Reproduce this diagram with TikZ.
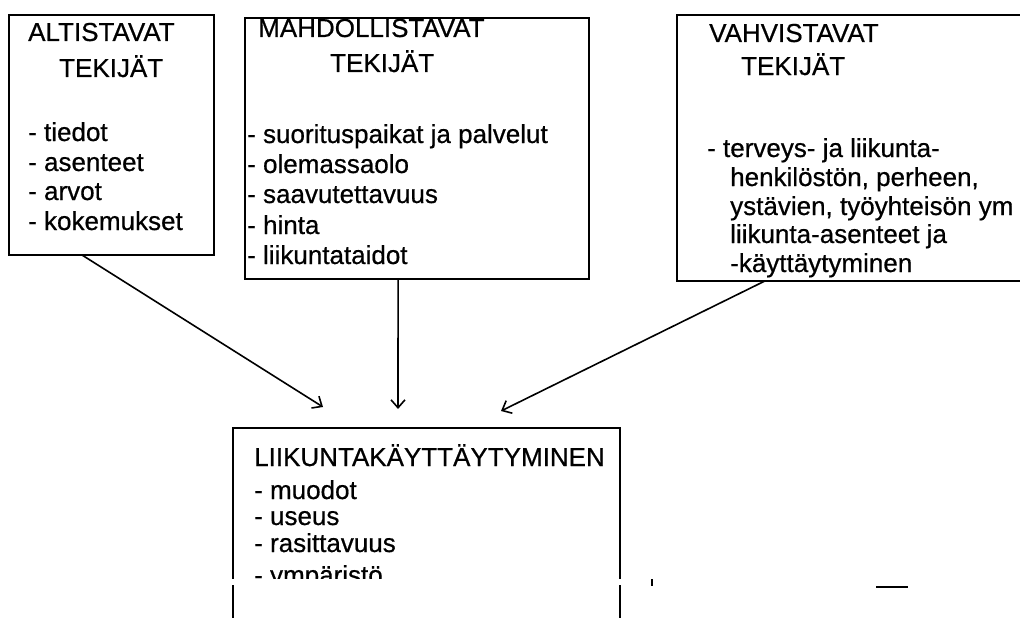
\documentclass[tikz,border=0pt]{standalone}
\usepackage{fontspec}
\setmainfont{Liberation Sans}
\newfontfamily\scanfont{Liberation Sans}[FakeBold=0.6]
\usetikzlibrary{arrows.meta,calc}
\begin{document}
\begin{tikzpicture}[x=1pt,y=-1pt,
  box/.style={draw=black,line width=2.4pt,inner sep=0pt,outer sep=0pt,anchor=north west},
  txt/.style={anchor=base west,inner sep=0pt,font=\scanfont\fontsize{26}{30}\selectfont},
  arr/.style={line width=1.6pt,-{Straight Barb[length=8pt,width=14pt,line width=1.6pt]}},
  mark stroke/.style={line width=2.4pt}]
\useasboundingbox (0,0) rectangle (1020,618);
\clip (0,0) rectangle (1020,618);
% boxes
\node[box,minimum width=205pt,minimum height=240pt] (b1) at (9,15) {};
\node[box,minimum width=344pt,minimum height=261pt] (b2) at (245,18) {};
\node[box,minimum width=363pt,minimum height=266pt] (b3) at (677,15) {};
\node[box,minimum width=387pt,minimum height=222pt] (b4) at (233,428) {};
% box 1 texts
\node[txt] (t1h1) at (28,41) {ALTISTAVAT};
\node[txt] (t1h2) at (59,77) {TEKIJÄT};
\node[txt] (t1a) at (28,141) {- tiedot};
\node[txt] (t1b) at (28,171) {- asenteet};
\node[txt] (t1c) at (28,200) {- arvot};
\node[txt] (t1d) at (28,230) {- kokemukset};
% box 2 texts
\node[txt] (t2h1) at (258,37) {MAHDOLLISTAVAT};
\node[txt] (t2h2) at (330,72) {TEKIJÄT};
\node[txt] (t2a) at (247,143) {- suorituspaikat ja palvelut};
\node[txt] (t2b) at (247,173) {- olemassaolo};
\node[txt] (t2c) at (247,203) {- saavutettavuus};
\node[txt] (t2d) at (247,234) {- hinta};
\node[txt] (t2e) at (247,264) {- liikuntataidot};
% box 3 texts
\node[txt] (t3h1) at (709,42) {VAHVISTAVAT};
\node[txt] (t3h2) at (741,75) {TEKIJÄT};
\node[txt] (t3a) at (707,157) {- terveys- ja liikunta-};
\node[txt] (t3b) at (730,186) {henkilöstön, perheen,};
\node[txt] (t3c) at (730,215) {ystävien, työyhteisön ym};
\node[txt] (t3d) at (730,243) {liikunta-asenteet ja};
\node[txt] (t3e) at (730,272) {-käyttäytyminen};
% box 4 texts
\node[txt] (t4h) at (254,466) {LIIKUNTAKÄYTTÄYTYMINEN};
\node[txt] (t4a) at (254,499) {- muodot};
\node[txt] (t4b) at (254,525) {- useus};
\node[txt] (t4c) at (254,552) {- rasittavuus};
\node[txt] (t4d) at (254,584) {- ympäristö};
% scan cut at the bottom
\fill[white] (236,579) rectangle (617,618);
\fill[white] (226,579) rectangle (627,585);
% arrow ends
\coordinate (e1) at (323,407);
\coordinate (e2) at (398,409);
\coordinate (e3) at (501,411);
% connectors
\draw[arr] ($(b1.south west)!0.356!(b1.south east)$) -- (e1);
\draw[arr] ($(b2.south west)!0.445!(b2.south east)$) -- (e2);
\draw[arr] ($(b3.south west)!0.242!(b3.south east)$) -- (e3);
% stray scan marks
\coordinate (m1) at (652,579);
\coordinate (m2) at (652,586);
\coordinate (m3) at (876,587);
\coordinate (m4) at (908,587);
\draw[mark stroke] (m1) -- (m2);
\draw[mark stroke] (m3) -- (m4);
\end{tikzpicture}
\end{document}
